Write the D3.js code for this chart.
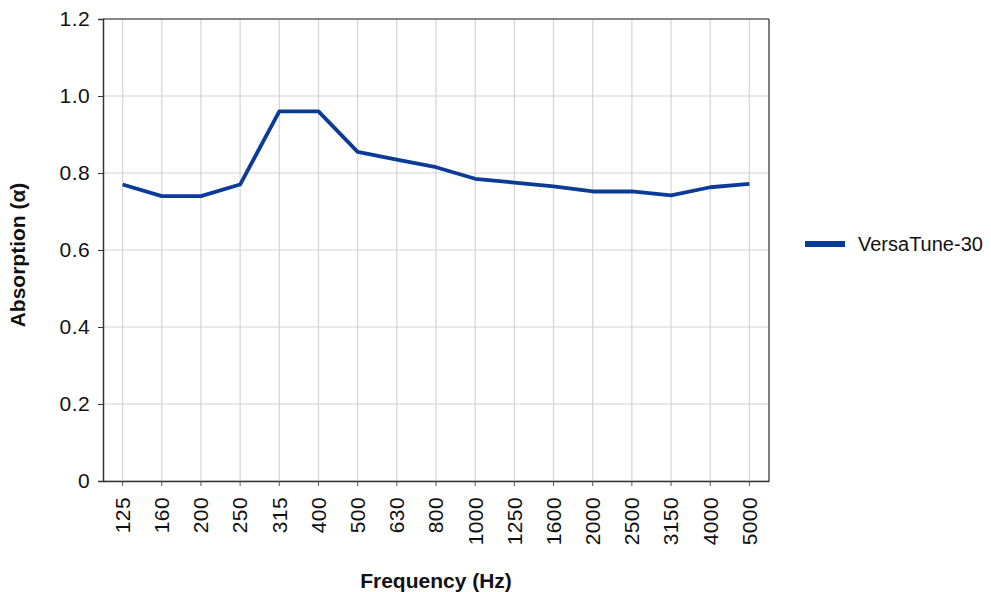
<!DOCTYPE html>
<html>
<head>
<meta charset="utf-8">
<script src="https://cdn.jsdelivr.net/npm/d3@7"></script>
<style>
  body { margin: 0; background: #fff; }
  svg { font-family: "Liberation Sans", Arial, sans-serif; }
</style>
</head>
<body>
<svg id="chart" width="991" height="592"></svg>
<script>
// data
const frequencies = ["125", "160", "200", "250", "315", "400", "500", "630", "800", "1000",
  "1250", "1600", "2000", "2500", "3150", "4000", "5000"];
const absorption = [0.77, 0.74, 0.74, 0.77, 0.96, 0.96, 0.855, 0.835, 0.815, 0.785,
  0.775, 0.765, 0.752, 0.752, 0.742, 0.763, 0.772];
const yTicks = [0, 0.2, 0.4, 0.6, 0.8, 1.0, 1.2];
const seriesName = "VersaTune-30";

const svg = d3.select("#chart");
const plotLeft = 103, plotRight = 769, plotTop = 19, plotBottom = 481;
const lineColor = "#0b3b96";
const fontFam = "Liberation Sans, Arial, sans-serif";

const x = d3.scaleBand().domain(frequencies).range([plotLeft, plotRight]).padding(0);
const y = d3.scaleLinear().domain([0, 1.2]).range([plotBottom, plotTop]);
const cx = d => x(d) + x.bandwidth() / 2;

// horizontal grid
svg.append("g").selectAll("line").data(yTicks).enter().append("line")
  .attr("x1", plotLeft).attr("x2", plotRight)
  .attr("y1", d => y(d)).attr("y2", d => y(d))
  .attr("stroke", "#d4d4d4").attr("stroke-width", 1.2);
// vertical grid at category centres
svg.append("g").selectAll("line").data(frequencies).enter().append("line")
  .attr("x1", d => cx(d)).attr("x2", d => cx(d))
  .attr("y1", plotTop).attr("y2", plotBottom)
  .attr("stroke", "#d4d4d4").attr("stroke-width", 1.2);

// frame: top and right
svg.append("line").attr("x1", plotLeft).attr("x2", plotRight).attr("y1", plotTop).attr("y2", plotTop)
  .attr("stroke", "#666").attr("stroke-width", 1.5);
svg.append("line").attr("x1", plotRight).attr("x2", plotRight).attr("y1", plotTop).attr("y2", plotBottom)
  .attr("stroke", "#555").attr("stroke-width", 1.5);

// y axis
const yAxis = svg.append("g")
  .attr("transform", "translate(" + plotLeft + ",0)")
  .call(d3.axisLeft(y).tickValues(yTicks).tickSize(5).tickPadding(8)
    .tickFormat(d => d === 0 ? "0" : d3.format(".1f")(d)));
yAxis.select(".domain").attr("stroke", "#333").attr("stroke-width", 1.5);
yAxis.selectAll(".tick line").attr("stroke", "#333");
yAxis.selectAll("text").attr("font-size", 21).attr("fill", "#111")
  .attr("font-family", fontFam).attr("letter-spacing", 0.4);

// x axis
const xAxis = svg.append("g")
  .attr("transform", "translate(0," + plotBottom + ")")
  .call(d3.axisBottom(x).tickSize(5).tickSizeOuter(0));
xAxis.select(".domain").attr("stroke", "#333").attr("stroke-width", 1.5);
xAxis.selectAll(".tick line").attr("stroke", "#555");
xAxis.selectAll("text")
  .attr("font-size", 21).attr("fill", "#111")
  .attr("font-family", fontFam)
  .attr("letter-spacing", 0.4)
  .attr("text-anchor", "end")
  .attr("transform", "rotate(-90)")
  .attr("x", -16).attr("y", 0).attr("dy", "0.35em");

// series line
const line = d3.line()
  .x((d, i) => cx(frequencies[i]))
  .y(d => y(d));
svg.append("path").datum(absorption)
  .attr("d", line)
  .attr("fill", "none")
  .attr("stroke", lineColor)
  .attr("stroke-width", 3.8)
  .attr("stroke-linejoin", "round");

// axis titles
svg.append("text")
  .attr("transform", "translate(25,255) rotate(-90)")
  .attr("text-anchor", "middle")
  .attr("font-size", 21).attr("font-weight", "bold").attr("fill", "#111")
  .text("Absorption (α)");
svg.append("text")
  .attr("x", (plotLeft + plotRight) / 2).attr("y", 588)
  .attr("text-anchor", "middle")
  .attr("font-size", 21).attr("font-weight", "bold").attr("fill", "#111")
  .text("Frequency (Hz)");

// legend
const legend = svg.append("g").attr("transform", "translate(805,244)");
legend.append("line").attr("x1", 0).attr("x2", 40).attr("y1", 0).attr("y2", 0)
  .attr("stroke", lineColor).attr("stroke-width", 6);
legend.append("text").attr("x", 53).attr("y", 0).attr("dy", "0.35em")
  .attr("font-size", 20).attr("fill", "#111")
  .text(seriesName);
</script>
</body>
</html>
